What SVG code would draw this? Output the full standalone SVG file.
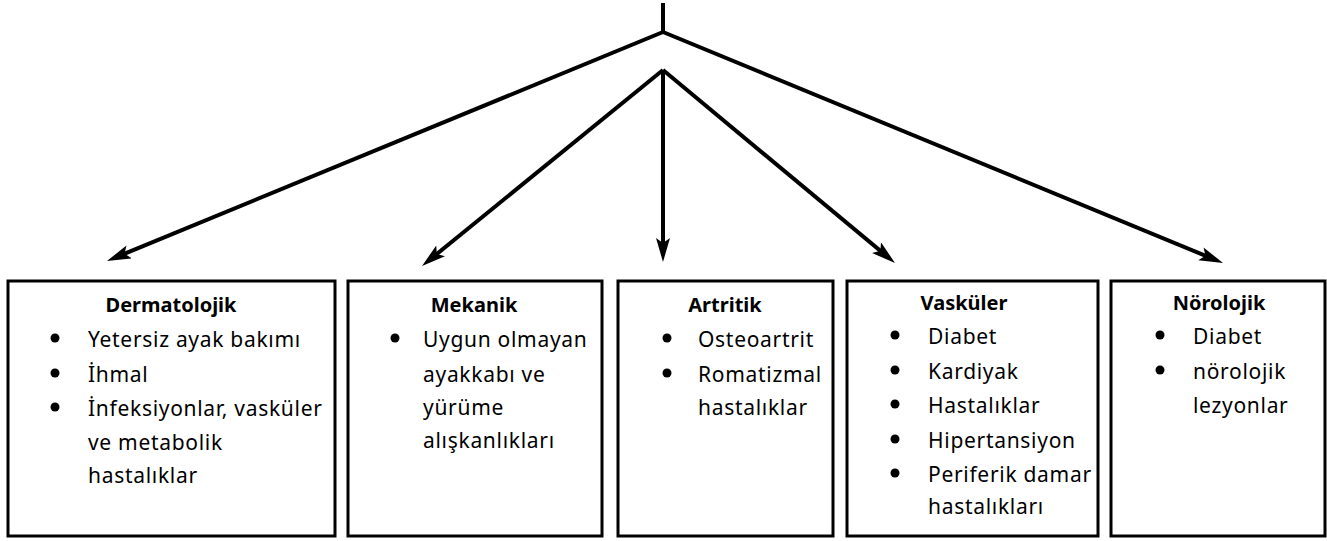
<svg xmlns="http://www.w3.org/2000/svg" width="1327" height="541" viewBox="0 0 1327 541">
<defs>
<style>
.box{fill:#fff;stroke:#000;stroke-width:3}
.t{font-family:"Noto Sans","DejaVu Sans",sans-serif;font-size:21px;letter-spacing:0.7px;fill:#000}
.h{font-family:"Noto Sans","DejaVu Sans",sans-serif;font-size:20px;font-weight:bold;fill:#000;text-anchor:middle}
.c{stroke:#000;stroke-width:4;fill:none}
</style>
<marker id="ah" markerUnits="userSpaceOnUse" markerWidth="26" markerHeight="16" refX="14" refY="7" orient="auto">
<path d="M0,0 L24,7 L0,14 L5,7 z" fill="#000"/>
</marker>
</defs>
<rect width="1327" height="541" fill="#fff"/>
<g id="connectors">
<line class="c" x1="663" y1="3" x2="663" y2="34"/>
<line class="c" x1="663" y1="32" x2="116.2" y2="257.2" marker-end="url(#ah)"/>
<line class="c" x1="663" y1="32" x2="1213.8" y2="259.2" marker-end="url(#ah)"/>
<line class="c" x1="663" y1="70" x2="429.8" y2="259.7" marker-end="url(#ah)"/>
<line class="c" x1="663" y1="70" x2="663" y2="252" marker-end="url(#ah)"/>
<line class="c" x1="663" y1="70" x2="887.3" y2="256.6" marker-end="url(#ah)"/>
</g>
<g id="dermatolojik">
<rect class="box" x="8" y="281" width="327" height="255"/>
<text class="h" x="171" y="312">Dermatolojik</text>
<circle cx="55" cy="338" r="4.5"/><circle cx="55" cy="373" r="4.5"/><circle cx="55" cy="407" r="4.5"/>
<text class="t" x="88" y="347">Yetersiz ayak bakımı</text>
<text class="t" x="88" y="382">İhmal</text>
<text class="t" x="88" y="416">İnfeksiyonlar, vasküler</text>
<text class="t" x="88" y="450">ve metabolik</text>
<text class="t" x="88" y="483">hastalıklar</text>
</g>
<g id="mekanik">
<rect class="box" x="348" y="281" width="254" height="255"/>
<text class="h" x="474" y="312">Mekanik</text>
<circle cx="395" cy="338" r="4.5"/>
<text class="t" x="423" y="347">Uygun olmayan</text>
<text class="t" x="423" y="382">ayakkabı ve</text>
<text class="t" x="423" y="415">yürüme</text>
<text class="t" x="423" y="448">alışkanlıkları</text>
</g>
<g id="artritik">
<rect class="box" x="618" y="281" width="215" height="255"/>
<text class="h" x="725" y="312">Artritik</text>
<circle cx="667" cy="338" r="4.5"/><circle cx="667" cy="373" r="4.5"/>
<text class="t" x="698" y="347">Osteoartrit</text>
<text class="t" x="698" y="382">Romatizmal</text>
<text class="t" x="698" y="415">hastalıklar</text>
</g>
<g id="vaskuler">
<rect class="box" x="847" y="281" width="251" height="255"/>
<text class="h" x="964" y="310">Vasküler</text>
<circle cx="895" cy="335" r="4.5"/><circle cx="895" cy="370" r="4.5"/><circle cx="895" cy="404" r="4.5"/><circle cx="895" cy="439" r="4.5"/><circle cx="895" cy="473" r="4.5"/>
<text class="t" x="928" y="344">Diabet</text>
<text class="t" x="928" y="379">Kardiyak</text>
<text class="t" x="928" y="413">Hastalıklar</text>
<text class="t" x="928" y="448">Hipertansiyon</text>
<text class="t" x="928" y="482">Periferik damar</text>
<text class="t" x="928" y="514">hastalıkları</text>
</g>
<g id="norolojik">
<rect class="box" x="1111" y="281" width="214" height="255"/>
<text class="h" x="1219" y="310">Nörolojik</text>
<circle cx="1160" cy="335" r="4.5"/><circle cx="1160" cy="370" r="4.5"/>
<text class="t" x="1193" y="344">Diabet</text>
<text class="t" x="1193" y="379">nörolojik</text>
<text class="t" x="1193" y="413">lezyonlar</text>
</g>
</svg>
